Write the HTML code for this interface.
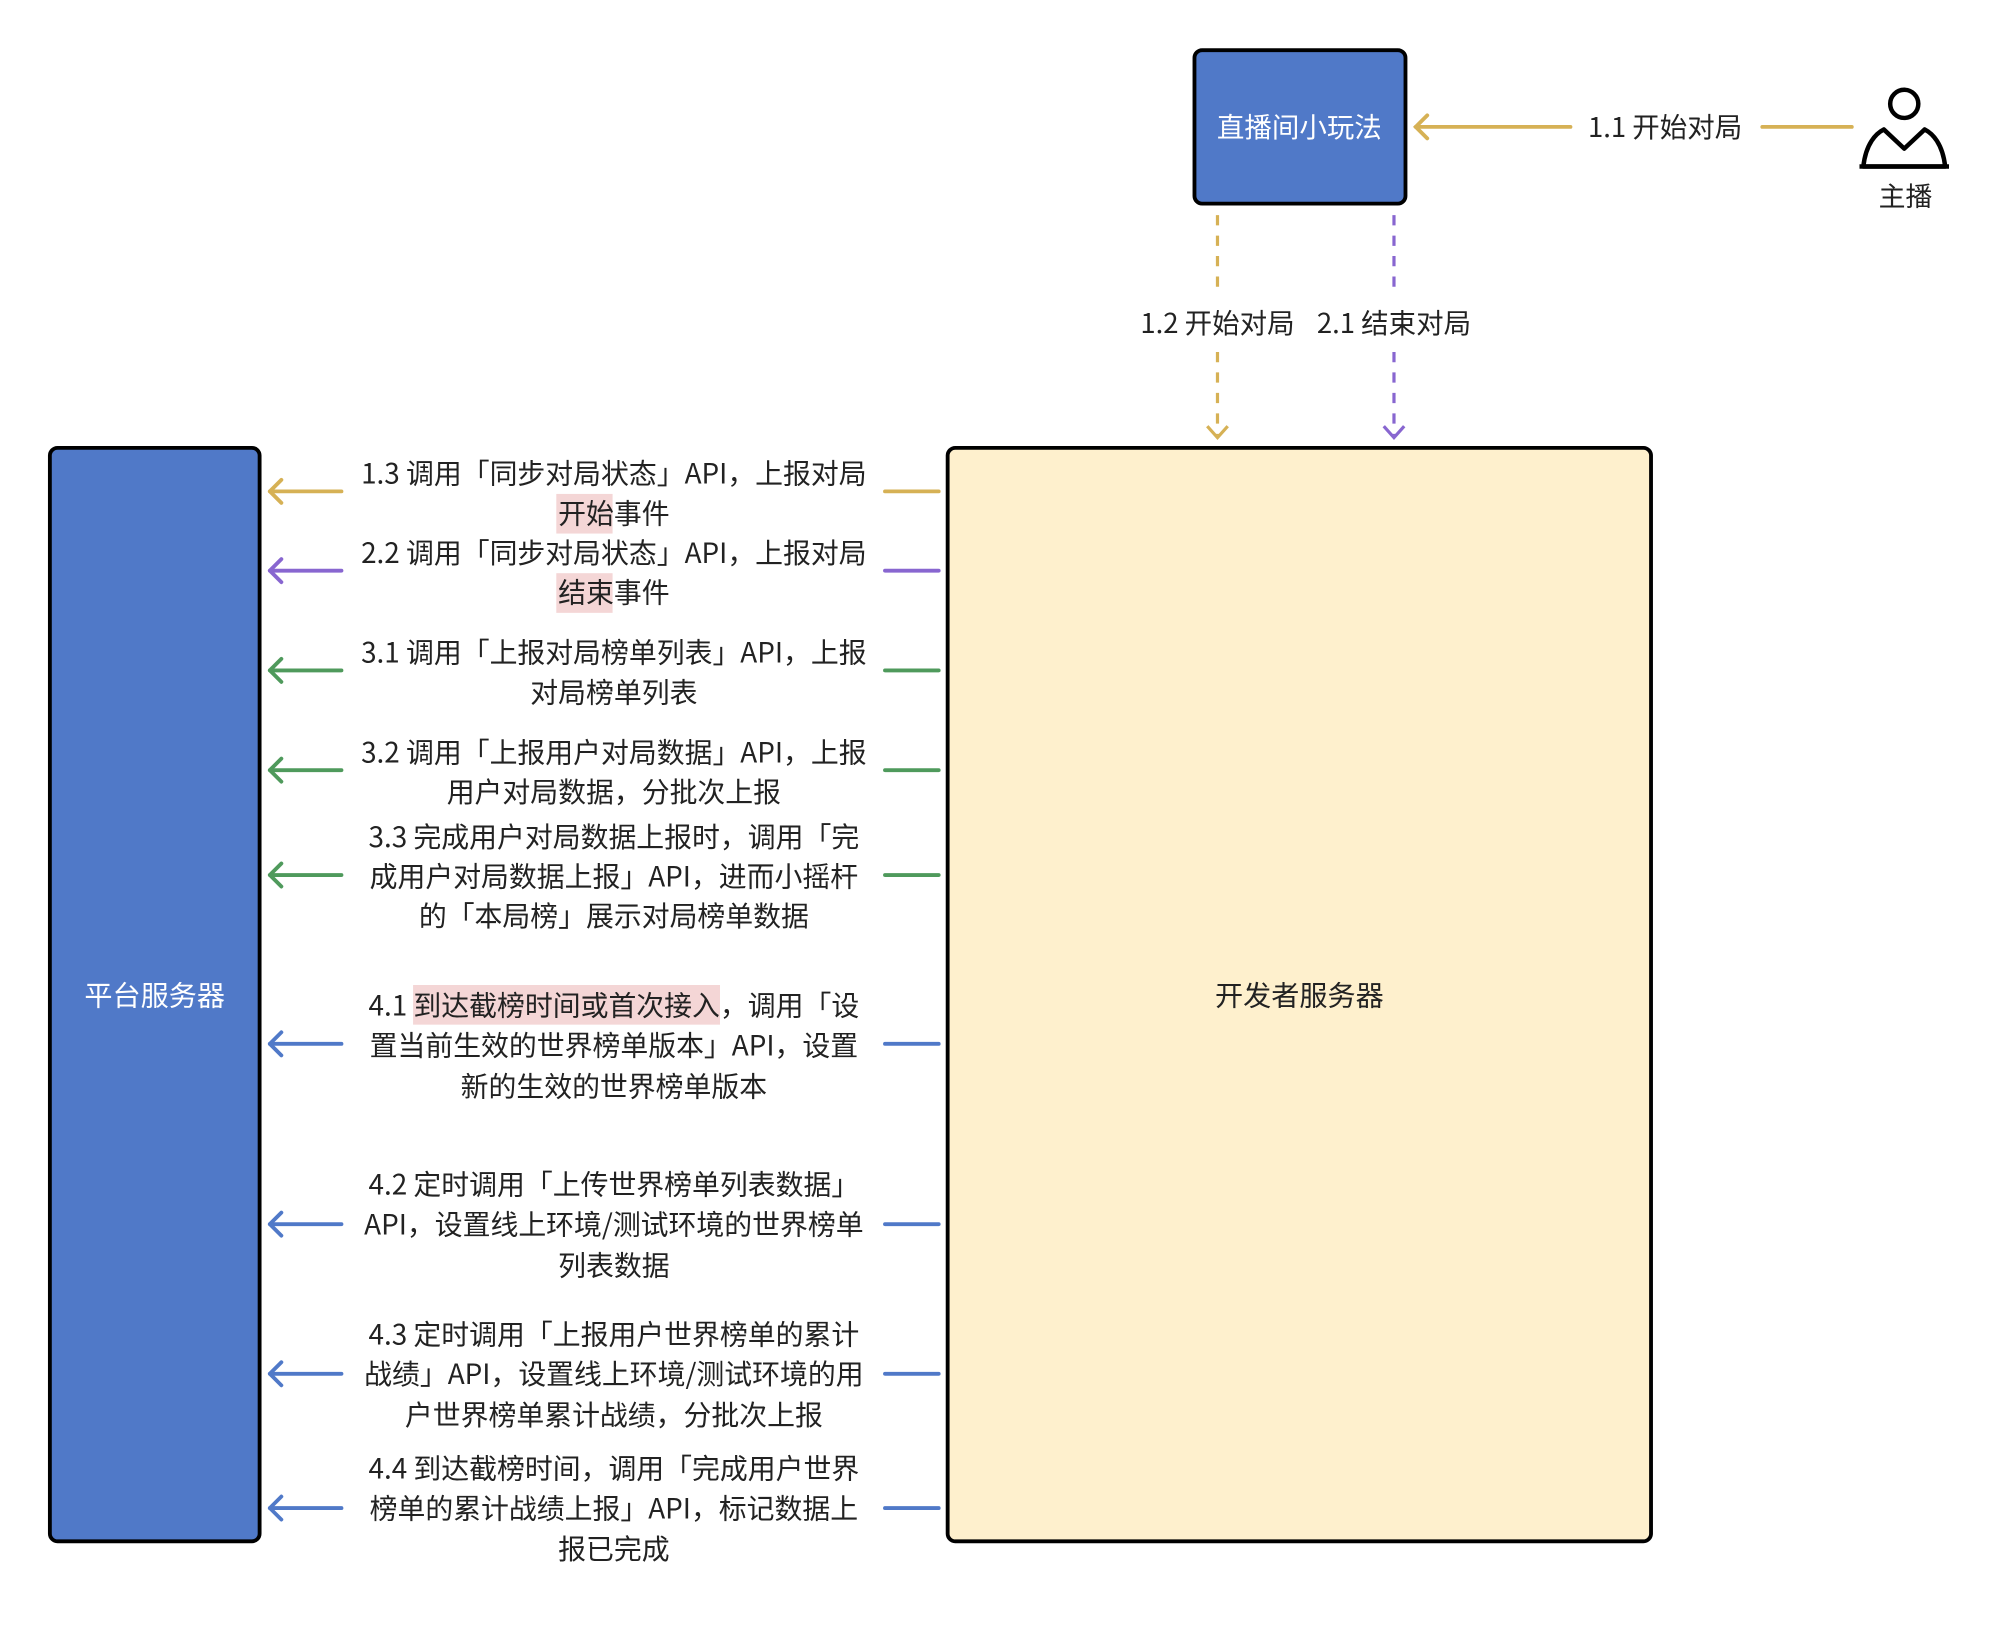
<!DOCTYPE html>
<html><head><meta charset="utf-8"><style>
html,body{margin:0;padding:0;background:#fff;}
svg{display:block;}
text{font-family:"Noto Sans CJK SC","Liberation Sans",sans-serif;}
</style></head><body>
<svg width="2004" height="1626" viewBox="0 0 1567 1271" xmlns="http://www.w3.org/2000/svg">
<rect width="1567" height="1271" fill="#fff"/>
<rect x="934" y="39" width="165" height="120" rx="6" fill="#5079c8" stroke="#000" stroke-width="3"/>
<text x="1016" y="107" font-size="21.5" fill="#fff" text-anchor="middle">直播间小玩法</text>
<g stroke="#d6b155" stroke-width="3" fill="none" stroke-linecap="round">
<line x1="1107" y1="99" x2="1228" y2="99"/>
<line x1="1378" y1="99" x2="1448" y2="99"/>
<polyline points="1116,90 1107,99 1116,108"/>
</g>
<text x="1302" y="107" font-size="21.5" fill="#222" text-anchor="middle">1.1 开始对局</text>
<g stroke="#000" stroke-width="3.5" fill="none">
<circle cx="1489" cy="81" r="11"/>
<path d="M1457,130 C1459,112 1467,104 1473,101 L1489,116 L1505,101 C1511,104 1519,112 1521,130 Z" stroke-linejoin="round"/>
<line x1="1454" y1="130" x2="1524" y2="130"/>
</g>
<text x="1490" y="161" font-size="21" fill="#222" text-anchor="middle">主播</text>
<g stroke-width="2.5" fill="none" stroke-dasharray="8,8">
<line x1="952" y1="168" x2="952" y2="225" stroke="#d6b155"/>
<line x1="952" y1="275" x2="952" y2="340" stroke="#d6b155"/>
<line x1="1090" y1="168" x2="1090" y2="225" stroke="#8866d0"/>
<line x1="1090" y1="275" x2="1090" y2="340" stroke="#8866d0"/>
</g>
<polyline points="944,333 952,342 960,333" stroke="#d6b155" stroke-width="2.5" fill="none"/>
<polyline points="1082,333 1090,342 1098,333" stroke="#8866d0" stroke-width="2.5" fill="none"/>
<text x="952" y="260" font-size="21.5" fill="#222" text-anchor="middle">1.2 开始对局</text>
<text x="1090" y="260" font-size="21.5" fill="#222" text-anchor="middle">2.1 结束对局</text>
<rect x="39" y="350" width="164" height="855" rx="6" fill="#5079c8" stroke="#000" stroke-width="3"/>
<text x="121" y="786" font-size="22" fill="#fff" text-anchor="middle">平台服务器</text>
<rect x="741" y="350" width="550" height="855" rx="6" fill="#fef0cd" stroke="#000" stroke-width="3"/>
<text x="1016" y="786" font-size="22" fill="#222" text-anchor="middle">开发者服务器</text>
<rect x="435" y="386" width="44" height="31" fill="#f4d6d6"/>
<rect x="435" y="448" width="44" height="31" fill="#f4d6d6"/>
<rect x="323" y="770" width="240" height="31" fill="#f4d6d6"/>
<g stroke-width="3" fill="none" stroke-linecap="round" stroke-linejoin="round">
<g stroke="#d6b155"><line x1="211" y1="384" x2="267" y2="384"/><line x1="692" y1="384" x2="734" y2="384"/><polyline points="220,375 211,384 220,393"/></g>
<g stroke="#8866d0"><line x1="211" y1="446" x2="267" y2="446"/><line x1="692" y1="446" x2="734" y2="446"/><polyline points="220,437 211,446 220,455"/></g>
<g stroke="#4f9a5c"><line x1="211" y1="524" x2="267" y2="524"/><line x1="692" y1="524" x2="734" y2="524"/><polyline points="220,515 211,524 220,533"/></g>
<g stroke="#4f9a5c"><line x1="211" y1="602" x2="267" y2="602"/><line x1="692" y1="602" x2="734" y2="602"/><polyline points="220,593 211,602 220,611"/></g>
<g stroke="#4f9a5c"><line x1="211" y1="684" x2="267" y2="684"/><line x1="692" y1="684" x2="734" y2="684"/><polyline points="220,675 211,684 220,693"/></g>
<g stroke="#5079c8"><line x1="211" y1="816" x2="267" y2="816"/><line x1="692" y1="816" x2="734" y2="816"/><polyline points="220,807 211,816 220,825"/></g>
<g stroke="#5079c8"><line x1="211" y1="957" x2="267" y2="957"/><line x1="692" y1="957" x2="734" y2="957"/><polyline points="220,948 211,957 220,966"/></g>
<g stroke="#5079c8"><line x1="211" y1="1074" x2="267" y2="1074"/><line x1="692" y1="1074" x2="734" y2="1074"/><polyline points="220,1065 211,1074 220,1083"/></g>
<g stroke="#5079c8"><line x1="211" y1="1179" x2="267" y2="1179"/><line x1="692" y1="1179" x2="734" y2="1179"/><polyline points="220,1170 211,1179 220,1188"/></g>
</g>
<g font-size="21.8" fill="#222" text-anchor="middle">
<text x="480" y="378">1.3 调用「同步对局状态」API，上报对局</text>
<text x="480" y="409">开始事件</text>
<text x="480" y="440">2.2 调用「同步对局状态」API，上报对局</text>
<text x="480" y="471">结束事件</text>
<text x="480" y="518">3.1 调用「上报对局榜单列表」API，上报</text>
<text x="480" y="549">对局榜单列表</text>
<text x="480" y="596">3.2 调用「上报用户对局数据」API，上报</text>
<text x="480" y="627">用户对局数据，分批次上报</text>
<text x="480" y="662">3.3 完成用户对局数据上报时，调用「完</text>
<text x="480" y="693">成用户对局数据上报」API，进而小摇杆</text>
<text x="480" y="724">的「本局榜」展示对局榜单数据</text>
<text x="480" y="794">4.1 到达截榜时间或首次接入，调用「设</text>
<text x="480" y="825">置当前生效的世界榜单版本」API，设置</text>
<text x="480" y="857">新的生效的世界榜单版本</text>
<text x="480" y="934">4.2 定时调用「上传世界榜单列表数据」</text>
<text x="480" y="965">API，设置线上环境/测试环境的世界榜单</text>
<text x="480" y="997">列表数据</text>
<text x="480" y="1051">4.3 定时调用「上报用户世界榜单的累计</text>
<text x="480" y="1082">战绩」API，设置线上环境/测试环境的用</text>
<text x="480" y="1114">户世界榜单累计战绩，分批次上报</text>
<text x="480" y="1156">4.4 到达截榜时间，调用「完成用户世界</text>
<text x="480" y="1187">榜单的累计战绩上报」API，标记数据上</text>
<text x="480" y="1219">报已完成</text>
</g>
</svg>
</body></html>
